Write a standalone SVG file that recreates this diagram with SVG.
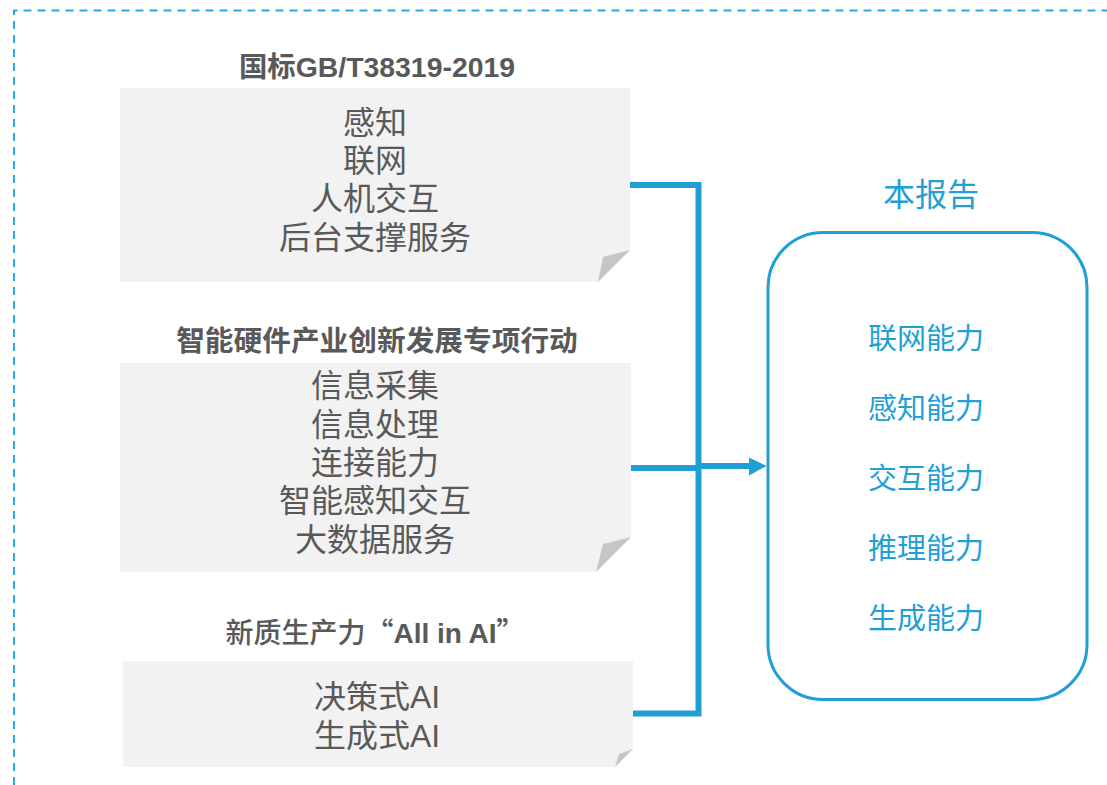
<svg xmlns="http://www.w3.org/2000/svg" width="1107" height="785" viewBox="0 0 1107 785">
  <defs>
    <style>
      .page { fill: #f2f2f2; }
      .fold { fill: #c6c6c6; }
      .title { font-family: "Liberation Sans", "Noto Sans CJK SC", sans-serif; font-size: 28px; font-weight: bold; fill: #595959; text-anchor: middle; }
      .body { font-family: "Liberation Sans", "Noto Sans CJK SC", sans-serif; font-size: 32px; fill: #595959; text-anchor: middle; }
      .cap { font-family: "Noto Sans CJK SC", sans-serif; font-size: 29px; fill: #229fd5; text-anchor: middle; }
      .link { fill: none; stroke: #1f9fd4; stroke-width: 6; stroke-linejoin: miter; stroke-linecap: butt; }
    </style>
  </defs>

  <path d="M14,785 V10.5 H1107" fill="none" stroke="#29a9e1" stroke-width="2" stroke-dasharray="8 6"/>

  <g id="node-gb">
    <text class="title" x="377" y="77" style="font-size:28.4px">国标GB/T38319-2019</text>
    <polygon class="page" points="120,88 630,88 630,250 598,282 120,282"/>
    <polygon class="fold" points="630,250 603,257 598,282"/>
    <text class="body" x="375" y="134">感知</text>
    <text class="body" x="375" y="172">联网</text>
    <text class="body" x="375" y="210">人机交互</text>
    <text class="body" x="375" y="249">后台支撑服务</text>
  </g>

  <g id="node-action">
    <text class="title" x="377" y="351" style="font-size:28.7px;font-weight:600">智能硬件产业创新发展专项行动</text>
    <polygon class="page" points="120,363 631,363 631,537 596,572 120,572"/>
    <polygon class="fold" points="631,537 603,544 596,572"/>
    <text class="body" x="375" y="397">信息采集</text>
    <text class="body" x="375" y="436">信息处理</text>
    <text class="body" x="375" y="474">连接能力</text>
    <text class="body" x="375" y="512">智能感知交互</text>
    <text class="body" x="375" y="551">大数据服务</text>
  </g>

  <g id="node-ai">
    <text class="title" x="375" y="643"><tspan font-family="Noto Sans CJK SC, sans-serif" font-weight="500">新质生产力“</tspan>All in AI<tspan font-family="Noto Sans CJK SC, sans-serif">”</tspan></text>
    <polygon class="page" points="123,661 633,661 633,749 615,767 123,767"/>
    <polygon class="fold" points="633,749 619,754 615,767"/>
    <text class="body" x="377" y="708">决策式AI</text>
    <text class="body" x="377" y="747">生成式AI</text>
  </g>

  <g id="node-report">
    <text class="cap" x="931" y="206" style="font-size:32px">本报告</text>
    <rect x="768" y="232.5" width="319" height="467" rx="55" ry="55" fill="none" stroke="#1f9fd4" stroke-width="3"/>
    <text class="cap" x="926" y="349">联网能力</text>
    <text class="cap" x="926" y="419">感知能力</text>
    <text class="cap" x="926" y="489">交互能力</text>
    <text class="cap" x="926" y="559">推理能力</text>
    <text class="cap" x="926" y="629">生成能力</text>
  </g>

  <g id="connectors">
    <path class="link" d="M630,185 H698.5 V713.5 H633"/>
    <path class="link" d="M631,468 H698.5"/>
    <path class="link" d="M698.5,466 H751"/>
    <path d="M749,457.5 L766.5,466 L749,475.5 Z" fill="#1f9fd4"/>
  </g>
</svg>
